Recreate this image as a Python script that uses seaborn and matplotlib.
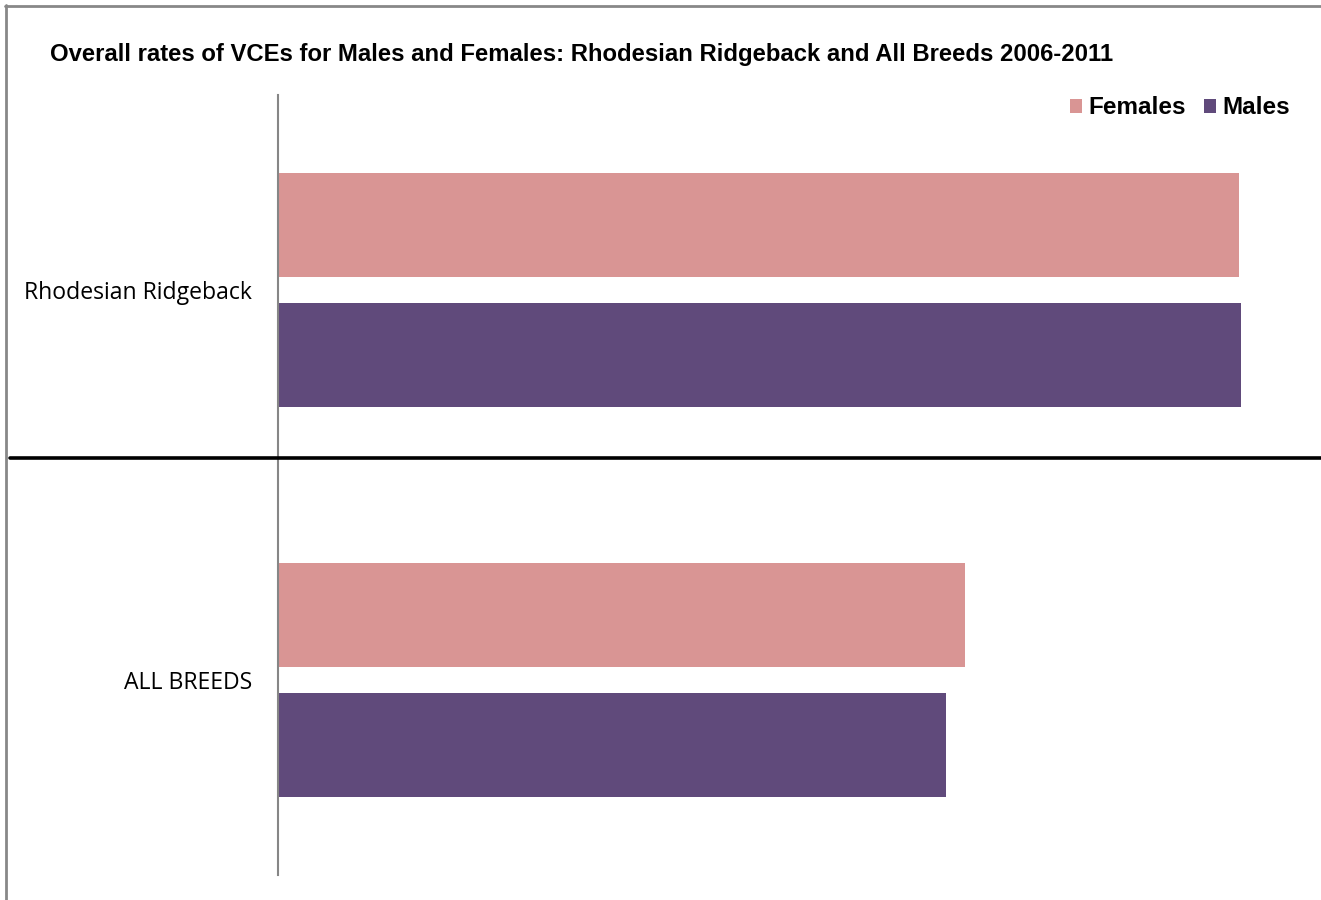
import matplotlib
matplotlib.use("Agg")
import matplotlib.pyplot as plt
import seaborn as sns
import pandas as pd
from matplotlib.lines import Line2D
from matplotlib.patches import Patch

categories = ["Rhodesian Ridgeback", "ALL BREEDS"]
series = ["Females", "Males"]
females = [9.61, 6.87]
males = [9.63, 6.68]
colors = {"Females": "#D99594", "Males": "#604A7B"}

df = pd.DataFrame({
    "breed": categories * 2,
    "sex": ["Females"] * 2 + ["Males"] * 2,
    "rate": females + males,
})

sns.set_theme(style="white")
fig = plt.figure(figsize=(13.21, 9.0), dpi=100)
ax = fig.add_axes([278 / 1321, 25 / 900, (1321 - 278) / 1321, 780 / 900])

sns.barplot(data=df, y="breed", x="rate", hue="sex", order=categories,
            hue_order=series, palette=colors, orient="h", width=0.667, gap=0.2,
            saturation=1, ax=ax, legend=False, edgecolor="none")
ax.set_xlim(0, 10.43)
ax.set_ylim(1.5, -0.5)
ax.set_xlabel("")
ax.set_ylabel("")
ax.set_xticks([])
for s in ["top", "right", "bottom"]:
    ax.spines[s].set_visible(False)
ax.spines["left"].set_color("#868686")
ax.spines["left"].set_linewidth(1.5)
ax.tick_params(axis="y", length=0, pad=18.5)
for lab in ax.get_yticklabels():
    lab.set_fontfamily("Open Sans")
    lab.set_fontsize(16.6)
    lab.set_color("black")

# separator line between categories
fig.add_artist(Line2D([10 / 1321, 1.0], [1 - 458 / 900, 1 - 458 / 900],
                      color="black", lw=2.6, transform=fig.transFigure))
# outer frame (top and left)
fig.add_artist(Line2D([5 / 1321, 1.0], [1 - 5.5 / 900, 1 - 5.5 / 900],
                      color="#888888", lw=2, transform=fig.transFigure))
fig.add_artist(Line2D([5.5 / 1321, 5.5 / 1321], [0, 1 - 5 / 900],
                      color="#888888", lw=2, transform=fig.transFigure))

fig.text(50 / 1321, 1 - 54 / 900,
         "Overall rates of VCEs for Males and Females: Rhodesian Ridgeback and All Breeds 2006-2011",
         fontfamily="Liberation Sans", fontweight="bold", fontsize=17.2,
         ha="left", va="center", color="black")

handles = [Patch(facecolor=colors[s], edgecolor="none") for s in series]
leg = fig.legend(handles, series, loc="center right",
                 bbox_to_anchor=(1290 / 1321, 1 - 108 / 900), ncol=2, frameon=False,
                 prop={"family": "Liberation Sans", "weight": "bold", "size": 17.5},
                 handlelength=0.5, handleheight=0.5, handletextpad=0.25,
                 columnspacing=0.75, borderaxespad=0, borderpad=0)
for t in leg.get_texts():
    t.set_color("black")

fig.savefig("out.png", dpi=100, facecolor="white")
